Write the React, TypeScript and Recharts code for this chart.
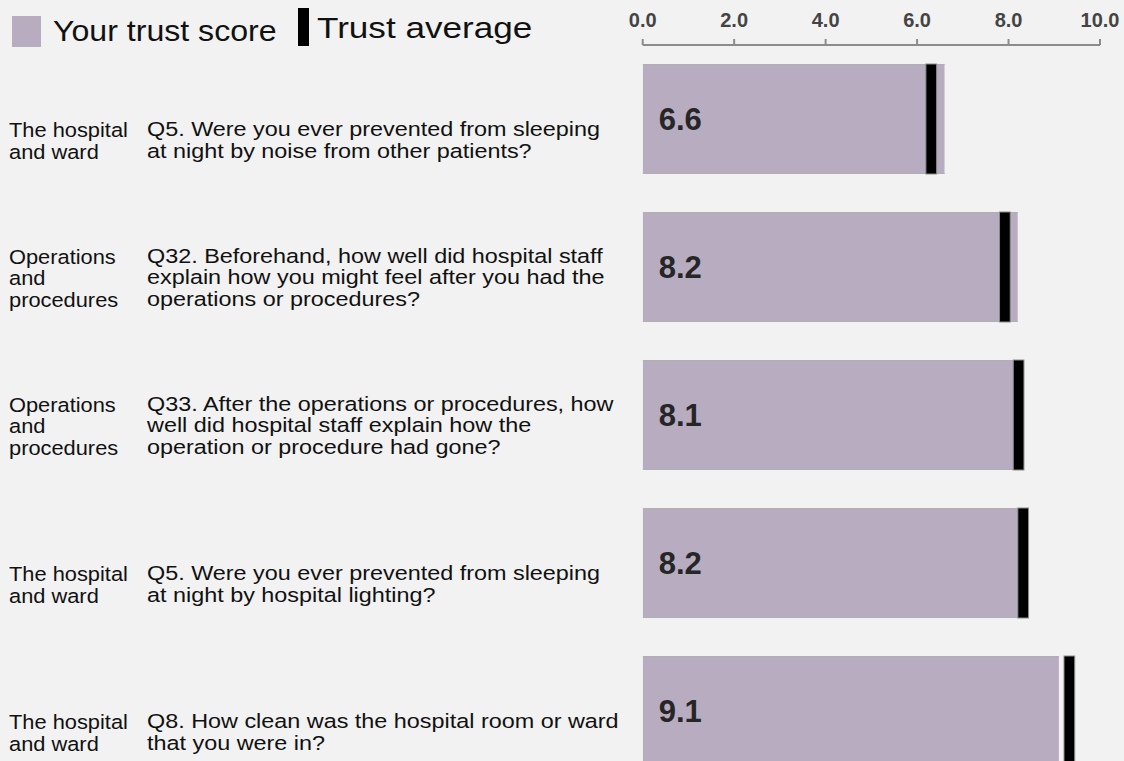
import React from 'react';
import { BarChart, Bar, XAxis, YAxis, LabelList } from 'recharts';

const categories: string[][] = [
  ['The hospital', 'and ward'],
  ['Operations', 'and', 'procedures'],
  ['Operations', 'and', 'procedures'],
  ['The hospital', 'and ward'],
  ['The hospital', 'and ward'],
];

const questions: string[][] = [
  ['Q5. Were you ever prevented from sleeping', 'at night by noise from other patients?'],
  ['Q32. Beforehand, how well did hospital staff', 'explain how you might feel after you had the', 'operations or procedures?'],
  ['Q33. After the operations or procedures, how', 'well did hospital staff explain how the', 'operation or procedure had gone?'],
  ['Q5. Were you ever prevented from sleeping', 'at night by hospital lighting?'],
  ['Q8. How clean was the hospital room or ward', 'that you were in?'],
];

const scores = [6.6, 8.2, 8.1, 8.2, 9.1];
const averages = [6.31, 7.92, 8.22, 8.32, 9.33];

const majorTicks = [0, 2, 4, 6, 8, 10];
const minorTicks = [0, 0.4, 0.8, 1.2, 1.6, 2, 2.4, 2.8, 3.2, 3.6, 4, 4.4, 4.8, 5.2, 5.6, 6, 6.4, 6.8, 7.2, 7.6, 8, 8.4, 8.8, 9.2, 9.6, 10];

const legendItems = ['Your trust score', 'Trust average'];

const data = scores.map((s, i) => ({ id: String(i), score: s, avg: averages[i] }));

const FONT = '"Liberation Sans", Arial, sans-serif';
const BAR_FILL = '#b8acc1';
const BG = '#f2f2f2';
const LINE_H = 21.5;
const TEXT_FONT = 19.5;
const SX_Q = 1.2;
const SX_C = 1.12;

const ScoreShape = (props: any) => {
  const { x, y, width, height } = props;
  if (width == null || height == null) return null;
  return (
    <g>
      <rect x={x} y={y} width={width} height={height} fill={BAR_FILL} />
      <line x1={x} x2={x + width} y1={y + 0.5} y2={y + 0.5} stroke="#b0b0b0" strokeWidth={1} />
      <line x1={x} x2={x + width} y1={y + height - 0.5} y2={y + height - 0.5} stroke="#b0b0b0" strokeWidth={1} />
    </g>
  );
};

const AvgShape = (props: any) => {
  const { x, y, width, height } = props;
  if (width == null || height == null) return null;
  const w = 10.7;
  return <rect x={x + width - w / 2} y={y} width={w} height={height} fill="#000" stroke="#8a8a8a" strokeWidth={1} />;
};

const ValueLabel = (props: any) => {
  const { x, y, height, value } = props;
  return (
    <text
      x={x + 16}
      y={y + height / 2}
      dominantBaseline="central"
      fontFamily={FONT}
      fontSize={31}
      fontWeight="bold"
      fill="#262626"
    >
      {Number(value).toFixed(1)}
    </text>
  );
};

const StretchText = ({ x, y, sx, children }: any) => (
  <text
    transform={`translate(${x},${y}) scale(${sx},1)`}
    dominantBaseline="central"
    fontFamily={FONT}
    fontSize={TEXT_FONT}
    fill="#111"
  >
    {children}
  </text>
);

const RowTick = (props: any) => {
  const { y, index } = props;
  const cat = categories[index] || [];
  const q = questions[index] || [];
  const n = Math.max(cat.length, q.length);
  const lastY = y + 32.5;
  const firstY = lastY - (n - 1) * LINE_H;
  return (
    <g>
      {cat.map((t, k) => (
        <StretchText key={'c' + k} x={9} y={firstY + k * LINE_H} sx={SX_C}>{t}</StretchText>
      ))}
      {q.map((t, k) => (
        <StretchText key={'q' + k} x={147} y={firstY + k * LINE_H} sx={SX_Q}>{t}</StretchText>
      ))}
    </g>
  );
};

export default function App() {
  return (
    <div style={{ position: 'fixed', left: 0, top: 0, width: 1124, height: 761, overflow: 'hidden', background: BG }}>
      <div style={{ position: 'absolute', left: 0, top: 0, width: 560, height: 60, fontFamily: FONT }}>
        <div style={{ position: 'absolute', left: 12, top: 16, width: 29, height: 31, background: BAR_FILL }} />
        <div style={{ position: 'absolute', left: 53, top: 13, fontSize: 30, lineHeight: '36px', color: '#111', whiteSpace: 'nowrap', transform: 'scaleX(1.07)', transformOrigin: 'left top' }}>
          {legendItems[0]}
        </div>
        <div style={{ position: 'absolute', left: 298, top: 8, width: 11, height: 38, background: '#000' }} />
        <div style={{ position: 'absolute', left: 317, top: 10, fontSize: 30, lineHeight: '36px', color: '#111', whiteSpace: 'nowrap', transform: 'scaleX(1.17)', transformOrigin: 'left top' }}>
          {legendItems[1]}
        </div>
      </div>
      <div style={{ position: 'absolute', left: 0, top: 0 }}>
        <BarChart
          width={1124}
          height={800}
          data={data}
          layout="vertical"
          margin={{ top: 5, right: 24, bottom: 15, left: 8.7 }}
        >
          <XAxis
            xAxisId="main"
            type="number"
            domain={[0, 10]}
            ticks={majorTicks}
            orientation="top"
            height={40}
            tickFormatter={(v: number) => v.toFixed(1)}
            tick={{ fontFamily: FONT, fontSize: 20, fontWeight: 'bold', fill: '#444' }}
            tickSize={6}
            tickMargin={12}
            axisLine={{ stroke: '#8c8c8c', strokeWidth: 2 }}
            tickLine={{ stroke: '#8c8c8c', strokeWidth: 2 }}
            allowDataOverflow
          />
          <XAxis
            xAxisId="minor"
            type="number"
            domain={[0, 10]}
            ticks={minorTicks}
            orientation="top"
            mirror
            height={0}
            tick={false}
            tickSize={5}
            axisLine={false}
            tickLine={{ stroke: '#8c8c8c', strokeWidth: 2 }}
            allowDataOverflow
          />
          <YAxis
            yAxisId="s"
            type="category"
            dataKey="id"
            width={634}
            axisLine={false}
            tickLine={false}
            tick={<RowTick />}
            interval={0}
          />
          <YAxis yAxisId="a" type="category" dataKey="id" hide />
          <Bar xAxisId="main" yAxisId="s" dataKey="score" barSize={110} shape={ScoreShape} isAnimationActive={false}>
            <LabelList dataKey="score" content={ValueLabel} />
          </Bar>
          <Bar xAxisId="main" yAxisId="a" dataKey="avg" barSize={110} shape={AvgShape} isAnimationActive={false} />
        </BarChart>
      </div>
    </div>
  );
}
